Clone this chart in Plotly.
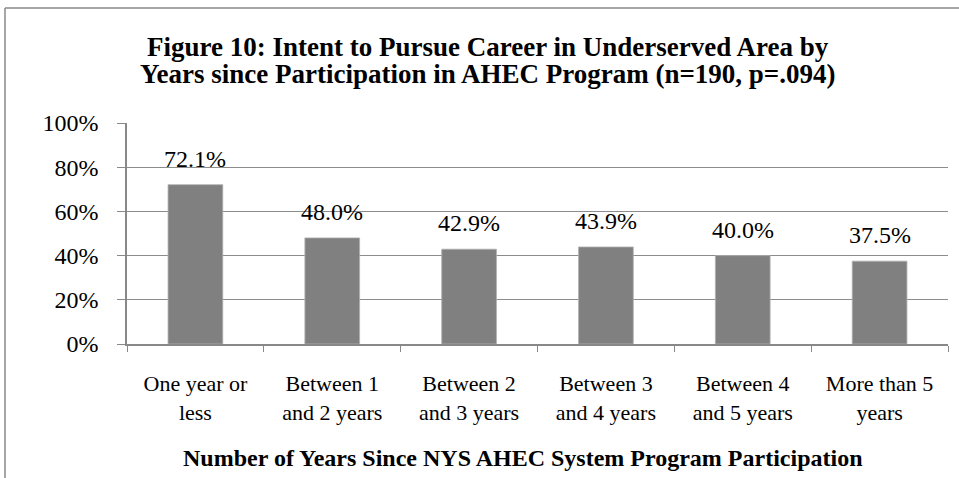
import plotly.graph_objects as go

categories = ["One year or less", "Between 1 and 2 years", "Between 2 and 3 years",
              "Between 3 and 4 years", "Between 4 and 5 years", "More than 5 years"]
tick_labels = ["One year or<br>less", "Between 1<br>and 2 years", "Between 2<br>and 3 years",
               "Between 3<br>and 4 years", "Between 4<br>and 5 years", "More than 5<br>years"]
values = [72.1, 48.0, 42.9, 43.9, 40.0, 37.5]
y_ticks = [0, 20, 40, 60, 80, 100]
y_tick_labels = ["0%", "20%", "40%", "60%", "80%", "100%"]
title_lines = ["Figure 10: Intent to Pursue Career in Underserved Area by",
               "Years since Participation in AHEC Program (n=190, p=.094)"]
x_title = "Number of Years Since NYS AHEC System Program Participation"

W, H = 959, 478
L, R, T, B = 127, 11, 123, 134
pw, ph = W - L - R, H - T - B

def px2paper_x(px):
    return (px - L) / pw

def px2paper_y(py):
    return (H - B - py) / ph

FONT = "Liberation Serif, Times New Roman, serif"

fig = go.Figure(go.Bar(
    x=categories, y=values,
    marker=dict(color="#808080", line=dict(width=0.8, color="#b0b0b0")),
    width=0.4,
    hoverinfo="x+y",
))

annotations = []
# data labels
for c, v in zip(categories, values):
    annotations.append(dict(
        x=c, y=v, xref="x", yref="y", text=f"{v:.1f}%",
        showarrow=False, xanchor="center", yanchor="bottom", yshift=11,
        font=dict(family=FONT, size=24, color="#000"),
    ))
# title lines
for i, line in enumerate(title_lines):
    annotations.append(dict(
        text=f"<b>{line}</b>", xref="paper", yref="paper",
        x=px2paper_x(488), y=px2paper_y(47 + 27 * i),
        xanchor="center", yanchor="middle", showarrow=False,
        font=dict(family=FONT, size=27, color="#000"),
    ))
# x-axis title
annotations.append(dict(
    text=f"<b>{x_title}</b>",
    xref="paper", yref="paper",
    x=px2paper_x(523), y=px2paper_y(458),
    xanchor="center", yanchor="middle", showarrow=False,
    font=dict(family=FONT, size=24, color="#000"),
))

fig.update_layout(
    width=W, height=H,
    margin=dict(l=L, r=R, t=T, b=B),
    paper_bgcolor="white", plot_bgcolor="white",
    showlegend=False,
    xaxis=dict(
        tickmode="array", tickvals=categories, ticktext=tick_labels,
        tickson="boundaries", ticks="outside", ticklen=6, tickcolor="#888",
        showline=True, linecolor="#888", linewidth=1.5,
        tickfont=dict(family=FONT, size=22, color="#000"),
        ticklabelstandoff=19,
        showgrid=False,
    ),
    yaxis=dict(
        range=[0, 100], tickvals=y_ticks, ticktext=y_tick_labels,
        ticks="outside", ticklen=8, tickcolor="#888",
        showline=True, linecolor="#888", linewidth=1.5,
        showgrid=True, gridcolor="#8c8c8c", gridwidth=1.3,
        tickfont=dict(family=FONT, size=24, color="#000"),
        ticklabelstandoff=14,
        zeroline=False,
    ),
    annotations=annotations,
    shapes=[
        dict(type="line", xref="paper", yref="paper",
             x0=px2paper_x(5), x1=px2paper_x(960), y0=px2paper_y(8), y1=px2paper_y(8),
             line=dict(color="#888", width=1.5)),
        dict(type="line", xref="paper", yref="paper",
             x0=px2paper_x(5), x1=px2paper_x(5), y0=px2paper_y(8), y1=px2paper_y(479),
             line=dict(color="#888", width=1.5)),
    ],
)

fig.write_html("out.html", config={"displayModeBar": False},
               post_script="document.body.style.margin='0';document.body.style.overflow='hidden';")
